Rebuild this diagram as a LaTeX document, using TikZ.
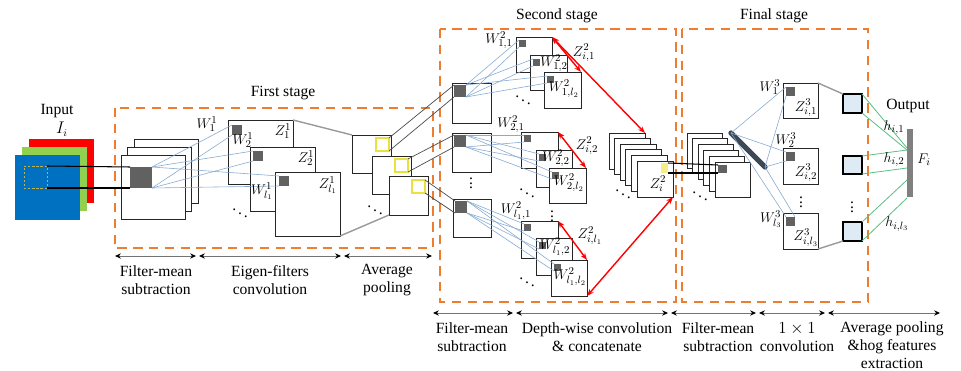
\documentclass[tikz,border=0pt]{standalone}
\usepackage{fontspec}
\setmainfont{Liberation Serif}
\usetikzlibrary{arrows.meta}
\definecolor{orng}{RGB}{237,125,49}
\definecolor{lbl}{RGB}{135,170,210}
\definecolor{grn}{RGB}{95,190,130}
\definecolor{yel}{RGB}{235,225,60}
\definecolor{winc}{RGB}{190,175,80}
\definecolor{inred}{RGB}{255,0,0}
\definecolor{ingreen}{RGB}{146,208,80}
\definecolor{inblue}{RGB}{0,112,192}
\definecolor{barc}{RGB}{60,72,85}
\definecolor{rfill}{RGB}{222,234,244}
\newcommand\mkbox[6][]{\node[#1,minimum width=#5*0.03cm,minimum height=#6*0.03cm] (#2) at (#3,#4) {};}
\begin{document}
\begin{tikzpicture}[x=0.03cm, y=-0.03cm, font=\fontsize{13.3}{15.4}\selectfont,
 fr/.style={draw=black!85, fill=white, line width=0.8pt, inner sep=0pt, outer sep=0pt, anchor=north west},
 bxflat/.style={draw=none, inner sep=0pt, outer sep=0pt, anchor=north west},
 patch/.style={bxflat, fill=black!62},
 ybox/.style={draw=yel, line width=0.9pt, inner sep=0pt, outer sep=0pt, anchor=north west},
 rbox/.style={draw=black, line width=1.1pt, fill=rfill, inner sep=0pt, outer sep=0pt, anchor=north west},
 stagebox/.style={draw=orng, line width=2.2pt, dash pattern=on 8pt off 5.5pt},
 bl/.style={draw=lbl, line width=0.5pt},
 gl/.style={draw=black!40, line width=1.2pt},
 dk/.style={draw=black!70, line width=0.6pt},
 blk/.style={draw=black, line width=0.9pt},
 grl/.style={draw=grn, line width=0.7pt},
 redarr/.style={draw=red, line width=1.2pt, {Stealth[length=6pt,width=4.5pt]}-{Stealth[length=6pt,width=4.5pt]}},
 dimarr/.style={draw=black!55, line width=0.7pt, {Stealth[length=5pt,width=4.5pt,black]}-{Stealth[length=5pt,width=4.5pt,black]}},
 lab/.style={inner sep=0pt, font=\fontsize{12.5}{14}\selectfont},
 txt/.style={align=center, inner sep=0pt}]
\useasboundingbox (0,0) rectangle (961,371);
% stage boxes
\draw[stagebox] (115,108) rectangle (433,248);
\draw[stagebox] (440,29) rectangle (676,302);
\draw[stagebox] (682,29) rectangle (868,302);
\node (tFirst) at (283,93) {First stage};
\node (tSecond) at (557,16) {Second stage};
\node (tFinal) at (774,16) {Final stage};
% input
\mkbox[bxflat,fill=inred]{inR}{29}{139}{65}{64}
\mkbox[bxflat,fill=ingreen]{inG}{22}{147}{65}{64}
\mkbox[bxflat,fill=inblue]{inB}{15}{155}{65}{65}
\mkbox[bxflat,draw=winc,line width=0.8pt,dash pattern=on 2pt off 1.5pt]{win}{24}{166}{23}{22}
\node (tInput) at (57,111) {Input};
\node (tIi) at (62,129) {$I_i$};
% first stack
\mkbox[fr]{a3}{134}{139}{64}{64}
\mkbox[fr]{a2}{127}{147}{64}{64}
\mkbox[fr]{a1}{121}{155}{64}{64}
\mkbox[patch]{pa}{130}{167}{22}{21}
\draw[blk] (win.north east) -- (pa.north west);
\draw[blk] (win.south east) -- (pa.south west);
% eigen-filter outputs
\mkbox[fr]{z1}{228}{120}{65}{64}
\mkbox[patch]{pz1}{232}{125}{10}{10}
\mkbox[fr]{z2}{250}{147}{65}{64}
\mkbox[patch]{pz2}{253}{151}{10}{10}
\mkbox[fr]{z3}{275}{172}{65}{64}
\mkbox[patch]{pz3}{279}{176}{10}{10}
\foreach \t in {pz1,pz2,pz3}{
  \draw[bl] (pa.north east) -- (\t.north west);
  \draw[bl] (pa.south east) -- (\t.south west);}
% pooling
\mkbox[fr]{p1}{352}{135}{39}{38}
\mkbox[ybox]{y1}{376}{138}{13}{13}
\mkbox[fr]{p2}{372}{156}{39}{38}
\mkbox[ybox]{y2}{395}{159}{13}{13}
\mkbox[fr]{p3}{389}{176}{39}{39}
\mkbox[ybox]{y3}{412}{180}{13}{13}
\draw[gl] (z1.north east) -- (p1.north west);
\draw[gl] (z3.south east) -- (p3.south west);
\node (dP) at (375,207) {$\ddots$};
% second stage inputs
\mkbox[fr]{s1}{452}{83}{39}{40}
\mkbox[patch]{ps1}{454}{85}{12}{12}
\mkbox[fr]{s2}{452}{133}{39}{39}
\mkbox[patch]{ps2}{454}{135}{12}{12}
\mkbox[fr]{s3}{453}{199}{38}{38}
\mkbox[patch]{ps3}{455}{201}{12}{12}
\foreach \k in {1,2,3}{
  \draw[dk] (y\k.north east) -- (ps\k.north west);
  \draw[dk] (y\k.south east) -- (ps\k.south west);}
\node (dS) at (471,180) {$\vdots$};
% depth-wise groups
\mkbox[fr]{w11}{516}{37}{36}{35}
\mkbox[patch]{pw11}{519}{40}{7}{7}
\mkbox[fr]{w12}{530}{55}{37}{35}
\mkbox[patch]{pw12}{533}{59}{7}{7}
\mkbox[fr]{w13}{544}{72}{37}{36}
\mkbox[patch]{pw13}{547}{76}{7}{7}
\mkbox[fr]{w21}{521}{132}{37}{36}
\mkbox[patch]{pw21}{524}{135}{7}{7}
\mkbox[fr]{w22}{536}{150}{36}{37}
\mkbox[patch]{pw22}{539}{154}{7}{7}
\mkbox[fr]{w23}{549}{168}{37}{35}
\mkbox[patch]{pw23}{552}{172}{7}{7}
\mkbox[fr]{w31}{521}{221}{37}{37}
\mkbox[patch]{pw31}{524}{224}{7}{7}
\mkbox[fr]{w32}{536}{238}{36}{37}
\mkbox[patch]{pw32}{539}{242}{7}{7}
\mkbox[fr]{w33}{551}{260}{36}{36}
\mkbox[patch]{pw33}{554}{264}{7}{7}
\foreach \g in {1,2,3}{
  \foreach \j in {1,2,3}{
    \draw[bl] (ps\g.north east) -- (pw\g\j.north west);
    \draw[bl] (ps\g.south east) -- (pw\g\j.south west);}}
% concatenated stack
\foreach \i/\x/\y in {1/609/133, 2/614.6/138.6, 3/620.2/144.2, 4/625.8/149.8, 5/631.4/155.4, 6/637/161}{
  \mkbox[fr]{c\i}{\x}{\y}{36}{36}}
\mkbox[bxflat,fill=yel!60]{yc}{661}{163}{7}{10}
\node[lab] (lZi2) at (658,184) {$Z_i^2$};
\node (dC) at (623,191) {$\ddots$};
% red arrows
\draw[redarr] (w11.north east) -- (w13.north east);
\draw[redarr] (w11.north east) -- (c1.north east);
\draw[redarr] (w21.north east) -- (w23.north east);
\draw[redarr] (w31.north east) -- (w33.north east);
\draw[redarr] (w33.south east) -- (c6.south east);
% final stage stack
\foreach \i/\x/\y in {1/687/133, 2/692.6/138.8, 3/698.2/144.6, 4/703.8/150.4, 5/709.4/156.2, 6/715/162}{
  \mkbox[fr]{f\i}{\x}{\y}{35}{35}}
\mkbox[patch]{pf}{718}{165}{9}{8}
\draw[blk] (yc.north east) -- (pf.north west);
\draw[blk] (yc.south east) -- (pf.south west);
\node (dF) at (700,193) {$\ddots$};
% 1x1 filter bar
\coordinate (barA) at (731,133);
\coordinate (barB) at (765,167);
\draw[barc, line width=4.5pt, line cap=round] (barA) -- (barB);
% final outputs
\mkbox[fr]{q1}{783}{83}{35}{35}
\mkbox[patch]{pq1}{786}{87}{9}{9}
\mkbox[fr]{q2}{783}{148}{35}{36}
\mkbox[patch]{pq2}{786}{152}{9}{9}
\mkbox[fr]{q3}{783}{213}{35}{36}
\mkbox[patch]{pq3}{786}{217}{9}{9}
\draw[bl] (barA) -- (pq1.north west);
\draw[bl] (barB) -- (pq1.south west);
\draw[bl] (barA) -- (pq2.north west);
\draw[bl] (barB) -- (pq2.south west);
\draw[bl] (barA) -- (pq3.north west);
\draw[bl] (barB) -- (pq3.north east);
% pooling + features
\mkbox[rbox]{r1}{843}{94}{19}{19}
\mkbox[rbox]{r2}{843}{156}{19}{18}
\mkbox[rbox]{r3}{843}{222}{19}{19}
\draw[gl] (q1.north east) -- (r1.north west);
\draw[gl] (q3.south east) -- (r3.south west);
\node (dQ) at (801,199) {$\vdots$};
\node (dR) at (852,204) {$\vdots$};
\mkbox[bxflat,fill=black!50]{Fb}{907}{129}{6}{68}
\coordinate (F1) at (907,148);
\coordinate (F2) at (907,150);
\coordinate (F3) at (907,168);
\coordinate (F4) at (907,180);
\coordinate (F5) at (907,198);
\draw[grl] (r1.north east) -- (F1);
\draw[grl] (r1.south east) -- (F2);
\draw[grl] (r2.north east) -- (F2);
\draw[grl] (r2.south east) -- (F3);
\draw[grl] (r3.north east) -- (F4);
\draw[grl] (r3.south east) -- (F5);
\node (tOut) at (908,106) {Output};
\node[lab] (lh1) at (894,128) {$h_{i,1}$};
\node[lab] (lh2) at (894,160) {$h_{i,2}$};
\node[lab] (lh3) at (897,224) {$h_{i,l_3}$};
\node[lab] (lF) at (924,160) {$F_i$};
% labels first stage
\node[lab] (lW11) at (207,124) {$W_1^1$};
\node[lab] (lW21) at (243,140) {$W_2^1$};
\node[lab] (lWl1) at (262,191) {$W_{l_1}^1$};
\node[lab] (lZ11) at (283,131) {$Z_1^1$};
\node[lab] (lZ21) at (306,158) {$Z_2^1$};
\node[lab] (lZl1) at (328,185) {$Z_{l_1}^1$};
\node (dZ) at (240,210) {$\ddots$};
% labels second stage
\node[lab] (lw11) at (499,40) {$W^2_{1,1}$};
\node[lab] (lw12) at (554,63) {$W^2_{1,2}$};
\node[lab] (lw13) at (564,89) {$W^2_{1,l_2}$};
\node[lab] (lz1) at (584,53) {$Z^2_{i,1}$};
\node[lab] (lw21) at (511,124) {$W^2_{2,1}$};
\node[lab] (lw22) at (556,158) {$W^2_{2,2}$};
\node[lab] (lw23) at (569,183) {$W^2_{2,l_2}$};
\node[lab] (lz2) at (587,146) {$Z^2_{i,2}$};
\node[lab] (lw31) at (516,211) {$W^2_{l_1,1}$};
\node[lab] (lw32) at (555,247) {$W^2_{l_1,2}$};
\node[lab] (lw33) at (570,277) {$W^2_{l_1,l_2}$};
\node[lab] (lz3) at (590,236) {$Z^2_{i,l_1}$};
\node (dW1) at (523,97) {$\ddots$};
\node (dW2) at (527,190) {$\ddots$};
\node (dW3) at (552,213) {$\vdots$};
\node (dW4) at (527,279) {$\ddots$};
% labels final stage
\node[lab] (lq1) at (770,87) {$W_1^3$};
\node[lab] (lq2) at (786,140) {$W_2^3$};
\node[lab] (lq3) at (771,219) {$W_{l_3}^3$};
\node[lab] (lzq1) at (806,108) {$Z^3_{i,1}$};
\node[lab] (lzq2) at (806,173) {$Z^3_{i,2}$};
\node[lab] (lzq3) at (806,238) {$Z^3_{i,l_3}$};
% bottom dimension arrows
\coordinate (b0) at (115,256); \coordinate (b1) at (196,256);
\coordinate (b2) at (199,256); \coordinate (b3) at (341,256);
\coordinate (b4) at (344,256); \coordinate (b5) at (432,256);
\draw[dimarr] (b0) -- (b1);
\draw[dimarr] (b2) -- (b3);
\draw[dimarr] (b4) -- (b5);
\coordinate (c0) at (433,313); \coordinate (cc1) at (513,313);
\coordinate (cc2) at (516,313); \coordinate (cc3) at (668,313);
\coordinate (cc4) at (671,313); \coordinate (cc5) at (756,313);
\coordinate (cc6) at (759,313); \coordinate (cc7) at (825,313);
\coordinate (cc8) at (828,313); \coordinate (cc9) at (940,313);
\draw[dimarr] (c0) -- (cc1);
\draw[dimarr] (cc2) -- (cc3);
\draw[dimarr] (cc4) -- (cc5);
\draw[dimarr] (cc6) -- (cc7);
\draw[dimarr] (cc8) -- (cc9);
\node[txt] (t1) at (156,280) {Filter-mean\\subtraction};
\node[txt] (t2) at (270,280) {Eigen-filters\\convolution};
\node[txt] (t3) at (387,280) {Average\\pooling};
\node[txt] (t4) at (472,337) {Filter-mean\\subtraction};
\node[txt] (t5) at (597,337) {Depth-wise convolution\\\& concatenate};
\node[txt] (t6) at (718,337) {Filter-mean\\subtraction};
\node[txt] (t7) at (797,337) {$1\times1$\\convolution};
\node[txt] (t8) at (892,345) {Average pooling\\\&hog features\\extraction};
\end{tikzpicture}
\end{document}
